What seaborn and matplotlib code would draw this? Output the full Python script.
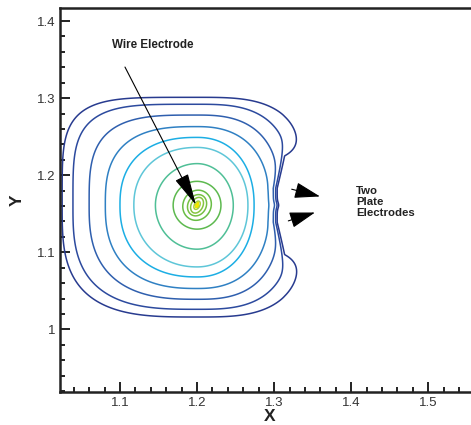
import numpy as np
import matplotlib
matplotlib.use("Agg")
import matplotlib.pyplot as plt
import seaborn as sns
from matplotlib.ticker import MultipleLocator, FuncFormatter

# electrode geometry (data units)
wire_x, wire_y = 1.2, 1.161
plate_x = 1.30
plate_band = (1.139, 1.183)

# outer contour lines: distance from the wire, read along each direction (outer -> inner)
level_top = [0.140, 0.131, 0.117, 0.102, 0.088, 0.075, 0.054]
cross_left = [0.175, 0.161, 0.140, 0.119, 0.100, 0.082, 0.054]
cross_bottom = [0.145, 0.135, 0.122, 0.108, 0.093, 0.080, 0.057]
cross_right = [0.143, 0.124, 0.108, 0.094, 0.074, 0.066, 0.047]
# squareness of each line in each quadrant (2 = ellipse)
p_tl = [4.6, 4.1, 3.4, 2.8, 2.4, 2.2, 2.0]
p_tr = [3.3, 3.0, 2.7, 2.4, 2.2, 2.1, 2.0]
p_bl = [3.2, 3.0, 2.7, 2.5, 2.3, 2.1, 2.0]
p_br = [3.2, 3.0, 2.7, 2.4, 2.2, 2.1, 2.0]
# small rings round the wire (outer -> inner) and their stretch along the tilt
inner_rings = [0.031, 0.019, 0.013, 0.009, 0.0045]
inner_stretch = [1.0, 1.05, 1.1, 1.2, 1.3]
core_levels = [0.0025, 0.0012]
core_stretch = 1.5
tilt_deg = 62

# colours, outer -> inner
line_colors = ['#283b8f', '#2c4a9e', '#2f5fae', '#2f80c3', '#1caee4', '#5ec6d8', '#4fbf96']
ring_colors = ['#5db94f', '#69bd45', '#76c043', '#86c540', '#a8cf3a']
core_colors = ['#f2e600', '#e8312a']

xs = np.arange(1.0, 1.58, 0.0005)
ys = np.arange(0.9, 1.44, 0.0005)
X, Y = np.meshgrid(xs, ys)
dx = X - wire_x
dy = Y - wire_y

# the plates pull the outer lines in around x = 1.3
band_mid = 0.5 * (plate_band[0] + plate_band[1])
band_half = 0.5 * (plate_band[1] - plate_band[0])
dist = np.maximum(0, np.abs(Y - band_mid) - band_half)
G = np.exp(-dist / 0.013) * (1 - 0.45 * np.exp(-((Y - band_mid) / 0.006) ** 2))
extra = 0.0121 * np.exp(np.clip((dx - (plate_x - wire_x)) / 0.0034, -30, 4)) * G
dx_eff = np.where(dx > 0, dx + extra, -dx)
left = dx < 0
up = dy > 0

sns.set_style("ticks")
plt.rcParams['font.family'] = ['Liberation Sans', 'DejaVu Sans']

fig = plt.figure(figsize=(4.71, 4.25), dpi=100)
ax = fig.add_axes([60 / 471, 33 / 425, 411 / 471, 384 / 425])

for k in range(len(level_top)):
    half_x = np.where(left, cross_left[k], cross_right[k])
    half_y = np.where(up, level_top[k], cross_bottom[k])
    p = np.where(up, np.where(left, p_tl[k], p_tr[k]), np.where(left, p_bl[k], p_br[k]))
    u = dx_eff / half_x
    v = np.abs(dy) / half_y
    S = (u ** p + v ** p) ** (1 / p)
    ax.contour(X, Y, S, levels=[1.0], colors=[line_colors[k]], linewidths=1.1)

# tilted rings at the wire
t = np.deg2rad(tilt_deg)
along = dx * np.cos(t) + dy * np.sin(t)
across = -dx * np.sin(t) + dy * np.cos(t)
for r, st, col in zip(inner_rings, inner_stretch, ring_colors):
    S = np.hypot(along / st, across * st) / r
    ax.contour(X, Y, S, levels=[1.0], colors=[col], linewidths=1.1)
S = np.hypot(along / core_stretch, across * core_stretch)
ax.contourf(X, Y, S, levels=[0] + core_levels[::-1], colors=core_colors[::-1])

ax.set_xlim(1.0222, 1.5554)
ax.set_ylim(0.9187, 1.4169)

ax.xaxis.set_major_locator(MultipleLocator(0.1))
ax.xaxis.set_minor_locator(MultipleLocator(0.02))
ax.yaxis.set_major_locator(MultipleLocator(0.1))
ax.yaxis.set_minor_locator(MultipleLocator(0.02))
fmt = FuncFormatter(lambda v, pos: f"{v:g}")
ax.xaxis.set_major_formatter(fmt)
ax.yaxis.set_major_formatter(fmt)
ax.tick_params(which='both', direction='in', width=1.4, color='#222222',
               labelsize=9.5, labelcolor='#333333', top=False, right=False)
ax.tick_params(which='major', length=7, pad=3.5)
ax.tick_params(which='minor', length=3.5)

for side in ['left', 'bottom', 'top']:
    ax.spines[side].set_linewidth(1.8)
    ax.spines[side].set_color('#222222')
ax.spines['right'].set_visible(False)

ax.set_xlabel("X", fontsize=12.5, fontweight='bold', color='#222222', va='center')
ax.set_ylabel("Y", fontsize=12.5, fontweight='bold', color='#222222')
ax.xaxis.set_label_coords(0.511, -0.064)
ax.yaxis.set_label_coords(-0.085, 0.5)

# annotations
ax.text(1.1428, 1.3687, "Wire Electrode", fontsize=8.4, fontweight='bold',
        ha='center', va='center', color='#222222')
ax.annotate("", xy=(1.1985, 1.1615), xytext=(1.1065, 1.3403),
            arrowprops=dict(arrowstyle="-|>,head_length=2.0,head_width=0.45",
                            color='black', lw=0.8, shrinkA=0, shrinkB=0,
                            mutation_scale=10))
ax.text(1.4062, 1.165, "Two\nPlate\nElectrodes", fontsize=8.2, fontweight='bold',
        ha='left', va='center', color='#222222', linespacing=1.1)
for tail, tip in [((1.3228, 1.1818), (1.3595, 1.1724)),
                  ((1.3184, 1.1407), (1.3530, 1.1516))]:
    ax.annotate("", xy=tip, xytext=tail,
                arrowprops=dict(arrowstyle="-|>,head_length=1.6,head_width=0.5",
                                color='black', lw=0.8, shrinkA=0, shrinkB=0,
                                mutation_scale=10))

fig.savefig("out.png", dpi=100)
